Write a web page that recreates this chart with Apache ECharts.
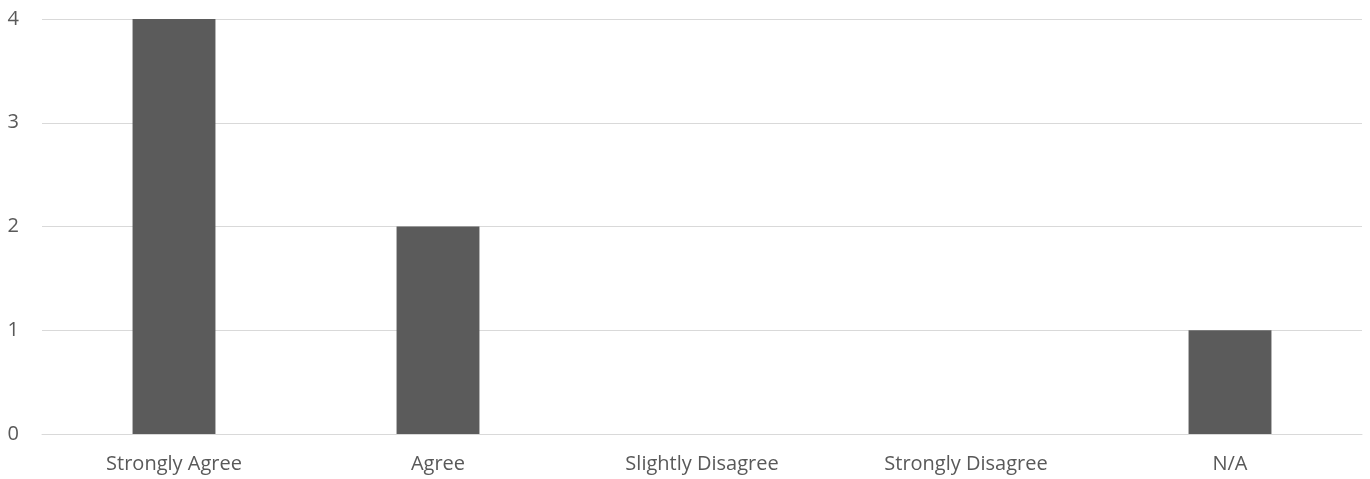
<!DOCTYPE html>
<html>
<head>
<meta charset="utf-8">
<script src="https://cdn.jsdelivr.net/npm/echarts@6/dist/echarts.min.js"></script>
<style>
  html, body { margin: 0; padding: 0; background: #fff; }
  #chart { width: 1370px; height: 479px; }
</style>
</head>
<body>
<div id="chart"></div>
<script>
  // chart data
  var categories = ['Strongly Agree', 'Agree', 'Slightly Disagree', 'Strongly Disagree', 'N/A'];
  var counts = [4, 2, 0, 0, 1];

  var myChart = echarts.init(document.getElementById('chart'));

  var option = {
    animation: false,
    grid: {
      left: 42,
      right: 8,
      top: 19,
      bottom: 45,
      containLabel: false
    },
    xAxis: {
      type: 'category',
      data: categories,
      axisTick: { show: false },
      axisLine: { lineStyle: { color: '#d9d9d9', width: 1 } },
      axisLabel: {
        color: '#595959',
        fontFamily: 'Open Sans',
        fontSize: 20,
        margin: 20
      }
    },
    yAxis: {
      type: 'value',
      min: 0,
      max: 4,
      interval: 1,
      axisLine: { show: false },
      axisTick: { show: false },
      splitLine: { lineStyle: { color: '#d9d9d9', width: 1 } },
      axisLabel: {
        color: '#595959',
        fontFamily: 'Open Sans',
        fontSize: 20,
        margin: 23
      }
    },
    series: [
      {
        type: 'bar',
        data: counts,
        barWidth: '31.4%',
        itemStyle: { color: '#5b5b5b' }
      }
    ]
  };

  myChart.setOption(option);
</script>
</body>
</html>
